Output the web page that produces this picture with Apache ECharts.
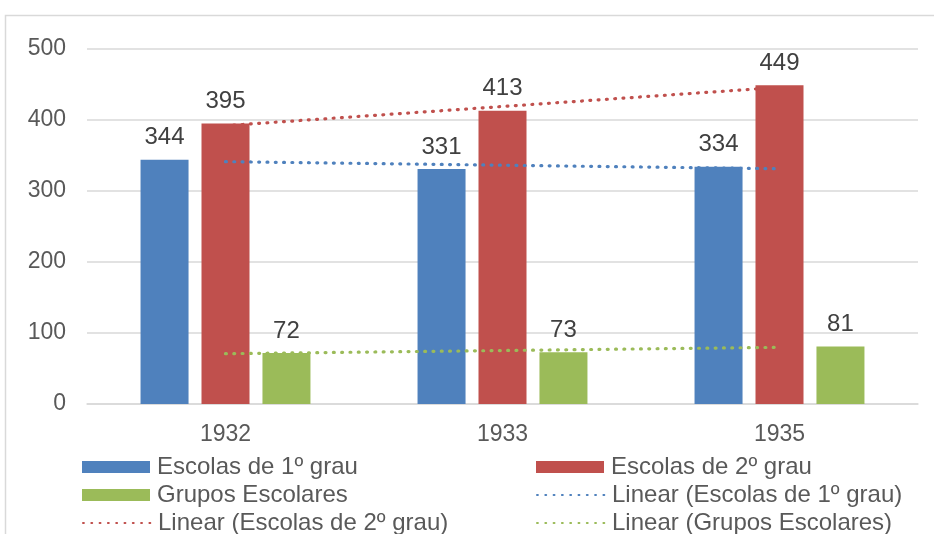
<!DOCTYPE html>
<html>
<head>
<meta charset="utf-8">
<script src="https://cdn.jsdelivr.net/npm/echarts@6/dist/echarts.min.js"></script>
<style>
  html, body { margin: 0; padding: 0; background: #fff; }
  #chart { width: 934px; height: 534px; }
</style>
</head>
<body>
<div id="chart"></div>
<script>
// School counts by year
const years = ['1932', '1933', '1935'];
const escolas1 = [344, 331, 334];
const escolas2 = [395, 413, 449];
const grupos = [72, 73, 81];
const yTicks = [0, 100, 200, 300, 400, 500];

const names = {
  e1: 'Escolas de 1º grau',
  e2: 'Escolas de 2º grau',
  g: 'Grupos Escolares',
  t1: 'Linear (Escolas de 1º grau)',
  t2: 'Linear (Escolas de 2º grau)',
  tg: 'Linear (Grupos Escolares)'
};

const colors = { blue: '#4F81BD', red: '#C0504D', green: '#9BBB59' };

// Least-squares linear trend over category positions 1..n
function linearTrend(values) {
  const n = values.length;
  const xs = values.map((_, i) => i + 1);
  const mx = xs.reduce((a, b) => a + b, 0) / n;
  const my = values.reduce((a, b) => a + b, 0) / n;
  let num = 0, den = 0;
  xs.forEach((x, i) => { num += (x - mx) * (values[i] - my); den += (x - mx) * (x - mx); });
  const slope = num / den;
  return xs.map(x => my + slope * (x - mx));
}

const font = '"Liberation Sans", Arial, sans-serif';
const dotted = [0.9, 7.4];

function barSeries(name, data, color) {
  return {
    name, type: 'bar', data,
    barWidth: 48, barGap: '27%',
    itemStyle: { color },
    label: {
      show: true, position: 'top', distance: 10,
      fontFamily: font, fontSize: 24, color: '#404040'
    }
  };
}

function trendSeries(name, data, color) {
  return {
    name, type: 'line', data: linearTrend(data),
    symbol: 'none', silent: true, z: 3,
    lineStyle: { color, width: 3.2, type: dotted, cap: 'round' },
    itemStyle: { color }
  };
}

// One legend block per entry so the two columns line up exactly
function legendItem(name, left, top, isLine) {
  const item = isLine
    ? { name, itemStyle: { opacity: 0 } }
    : { name, icon: 'rect' };
  return {
    data: [item], left, top, orient: 'horizontal', padding: 0,
    itemWidth: 68, itemHeight: 12, itemGap: 0,
    selectedMode: false,
    textStyle: { fontFamily: font, fontSize: 24, color: '#595959', lineHeight: 24, padding: [0, 0, 0, 2] }
  };
}

const chart = echarts.init(document.getElementById('chart'), null, { renderer: 'canvas' });
chart.setOption({
  animation: false,
  backgroundColor: '#fff',
  graphic: [{
    type: 'rect', silent: true, z: -10,
    shape: { x: 5.5, y: 15.5, width: 940, height: 540 },
    style: { fill: 'none', stroke: '#D9D9D9', lineWidth: 1.5 }
  }],
  grid: { left: 87, right: 16, top: 49, bottom: 130 },
  xAxis: {
    type: 'category', data: years,
    axisLine: { lineStyle: { color: '#D9D9D9', width: 1.5 } },
    axisTick: { show: false },
    axisLabel: { fontFamily: font, fontSize: 23, color: '#595959', margin: 19 }
  },
  yAxis: {
    type: 'value', min: yTicks[0], max: yTicks[yTicks.length - 1], interval: 100,
    axisLine: { show: false }, axisTick: { show: false },
    splitLine: { lineStyle: { color: '#D9D9D9', width: 1.5 } },
    axisLabel: { fontFamily: font, fontSize: 23, color: '#595959', margin: 21 }
  },
  legend: [
    legendItem(names.e1, 82, 455, false),
    legendItem(names.g, 82, 483, false),
    legendItem(names.t2, 82, 511, true),
    legendItem(names.e2, 536, 455, false),
    legendItem(names.t1, 536, 483, true),
    legendItem(names.tg, 536, 511, true)
  ],
  series: [
    barSeries(names.e1, escolas1, colors.blue),
    barSeries(names.e2, escolas2, colors.red),
    barSeries(names.g, grupos, colors.green),
    trendSeries(names.t1, escolas1, colors.blue),
    trendSeries(names.t2, escolas2, colors.red),
    trendSeries(names.tg, grupos, colors.green)
  ]
});
</script>
</body>
</html>
